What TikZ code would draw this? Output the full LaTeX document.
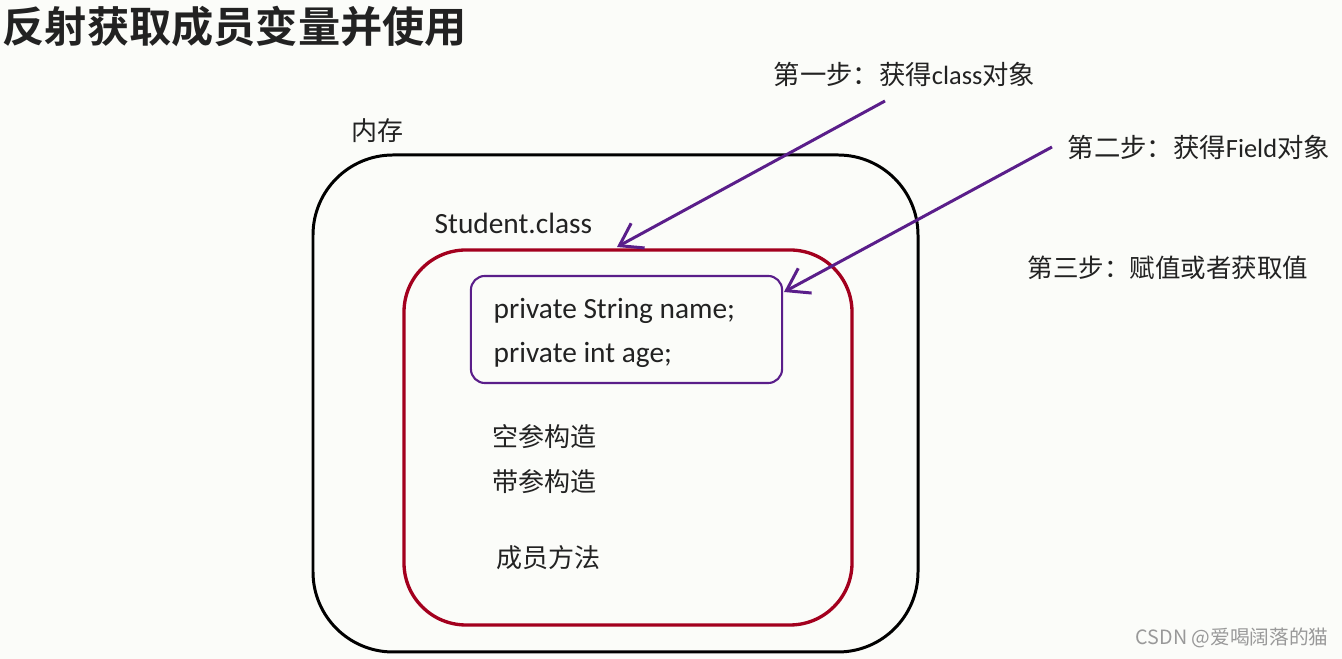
\documentclass[tikz,border=0pt]{standalone}
\usepackage{fontspec}
\setmainfont{Carlito}
\newfontfamily\cjk{Noto Sans CJK SC}
\newfontfamily\cjkb{Noto Sans CJK SC Bold}
\usetikzlibrary{arrows.meta}
\definecolor{bgc}{HTML}{FBFCF9}
\definecolor{boxred}{HTML}{A3001E}
\definecolor{arrpur}{HTML}{5A1E8A}
\definecolor{txt}{HTML}{222222}
\begin{document}
\begin{tikzpicture}[x=0.01cm,y=-0.01cm,
  lbl/.style={anchor=west,inner sep=0pt,text=txt,font=\fontsize{8.35pt}{9pt}\selectfont},
  cjklbl/.style={lbl,font=\fontsize{7.4pt}{9pt}\selectfont\cjk},
  stepl/.style={anchor=west,inner sep=0pt,text=txt,font=\fontsize{7.4pt}{9pt}\selectfont},
  arr/.style={draw=arrpur,line width=0.85pt,-{Straight Barb[length=6pt,width=8pt,line width=0.85pt]}}]
\fill[bgc] (0,0) rectangle (1342,659);
\useasboundingbox (0,0) rectangle (1342,659);
% title
\node[anchor=west,inner sep=0pt,text=txt,font=\fontsize{12pt}{14pt}\selectfont\cjkb] (title) at (2,27) {反射获取成员变量并使用};
% boxes
\draw[line width=0.85pt,rounded corners=0.8cm] (313,155) rectangle (918,652);
\node[cjklbl] (mem) at (351,131) {内存};
\draw[boxred,line width=0.95pt,rounded corners=0.62cm] (404,250) rectangle (852,625);
\node[lbl] (stu) at (434,223) {Student.class};
\node[draw=arrpur,line width=0.6pt,rounded corners=0.14cm,minimum width=3.11cm,minimum height=1.07cm,inner sep=0pt] (fld) at (626.5,329.5) {};
\node[lbl] (f1) at (493,311) {private String name;};
\node[lbl] (f2) at (493,355) {private int age;};
\node[cjklbl] (c1) at (492,437) {空参构造};
\node[cjklbl] (c2) at (492,482) {带参构造};
\node[cjklbl] (m1) at (496,558) {成员方法};
% steps
\node[stepl,font=\fontsize{7.5pt}{9pt}\selectfont] (s1) at (773,74) {{\cjk 第一步：获得}class{\cjk 对象}};
\node[stepl,font=\fontsize{7.5pt}{9pt}\selectfont] (s2) at (1067,147) {{\cjk 第二步：获得}Field{\cjk 对象}};
\node[stepl,font=\fontsize{7.25pt}{9pt}\selectfont] (s3) at (1027,268) {{\cjk 第三步：赋值或者获取值}};
\coordinate (a1s) at (885,101);
\coordinate (a1e) at (617,247);
\coordinate (a2s) at (1052,147);
\coordinate (a2e) at (784,292);
\draw[arr] (a1s) -- (a1e);
\draw[arr] (a2s) -- (a2e);
% watermark
\node[anchor=west,inner sep=0pt,text=gray!80,font=\fontsize{5.6pt}{6pt}\selectfont\cjk] (wm) at (1135,638) {CSDN @爱喝阔落的猫};
\end{tikzpicture}
\end{document}
